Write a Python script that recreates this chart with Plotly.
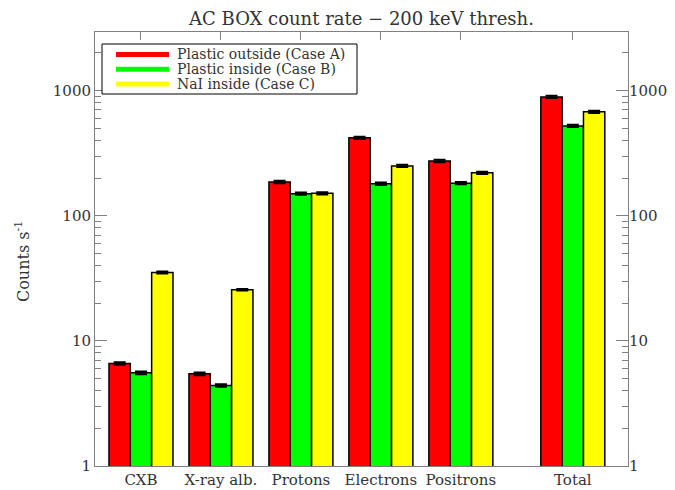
import plotly.graph_objects as go

categories = ["CXB", "X-ray alb.", "Protons", "Electrons", "Positrons", "Total"]
cat_pos = [1, 2, 3, 4, 5, 6.4]
series_names = ["Plastic outside (Case A)", "Plastic inside (Case B)", "NaI inside (Case C)"]
case_a = [6.6, 5.45, 186, 419, 274, 890]
case_b = [5.55, 4.4, 150, 180, 182, 522]
case_c = [35.2, 25.6, 151, 250, 220, 676]
err_a = [0.15, 0.13, 4, 9, 6, 18]
err_b = [0.13, 0.11, 3, 4, 4, 10]
err_c = [0.6, 0.4, 3, 5, 5, 13]
colors = ["#ff0000", "#00ff00", "#ffff00"]

y_tickvals = [1, 10, 100, 1000]
y_ticktext = ["1", "10", "100", "1000"]
y_minor = [m * 10 ** d for d in range(0, 4) for m in range(2, 10) if m * 10 ** d < 3000]

FONT = "DejaVu Serif"
TXT = "#333333"
AX = "#808080"
yrange = [0, 3.468]
xrange_ = [0.425, 7.09]

# the page body adds an 8px offset; size the figure so the plot lands where the reference has it
OFF = 8
W, H = 675 - OFF, 490 - OFF
PL, PR, PT, PB = 95, 628, 32, 466          # plot box in window pixels
ML, MT = PL - OFF, PT - OFF
MR, MB = W - (PR - OFF), H - (PB - OFF)
PW, PH = PR - PL, PB - PT


def px(xp):
    return (xp - PL) / PW


def py(yp):
    return (PB - yp) / PH


fig = go.Figure()
for name, vals, errs, col in zip(series_names, [case_a, case_b, case_c], [err_a, err_b, err_c], colors):
    fig.add_trace(go.Bar(
        x=cat_pos, y=vals, name=name, showlegend=False,
        marker=dict(color=col, line=dict(color="black", width=1.5)),
        error_y=dict(type="data", array=errs, color="black", thickness=2, width=6),
    ))
# invisible trace to activate the mirrored axes
fig.add_trace(go.Scatter(x=[None], y=[None], mode="lines", showlegend=False,
                         xaxis="x2", yaxis="y2", hoverinfo="skip"))

# legend drawn as a framed box with line samples
shapes = [dict(type="rect", xref="paper", yref="paper", x0=px(102), x1=px(357),
               y0=py(94), y1=py(44), line=dict(color="black", width=1),
               fillcolor="white", layer="above")]
annotations = []
row_y = [54.5, 69.3, 84]
for name, col, ry in zip(series_names, colors, row_y):
    shapes.append(dict(type="line", xref="paper", yref="paper", x0=px(116), x1=px(169),
                       y0=py(ry), y1=py(ry), line=dict(color=col, width=5), layer="above"))
    annotations.append(dict(text=name, xref="paper", yref="paper", x=px(175), y=py(ry),
                            xanchor="left", yanchor="middle", showarrow=False,
                            font=dict(family=FONT, size=14, color=TXT)))
annotations.append(dict(text="Counts s<sup>-1</sup>", xref="paper", yref="paper",
                        x=px(22), y=py(262), textangle=-90, xanchor="center", yanchor="middle",
                        showarrow=False, font=dict(family=FONT, size=16, color=TXT)))

fig.update_layout(
    width=W, height=H,
    margin=dict(l=ML, r=MR, t=MT, b=MB, autoexpand=False),
    paper_bgcolor="white", plot_bgcolor="white",
    barmode="group", bargap=0.2, bargroupgap=0,
    font=dict(family=FONT, size=16, color=TXT),
    title=dict(text="AC BOX count rate \u2212 200 keV thresh.", x=0.5, xref="paper",
               y=1 - (18.5 - OFF) / H, yref="container", yanchor="middle", automargin=False,
               font=dict(family=FONT, size=18, color=TXT)),
    xaxis=dict(range=xrange_, tickvals=cat_pos, ticktext=categories, ticks="",
               showline=True, linecolor=AX, linewidth=1, mirror=True, automargin=False,
               showgrid=False, zeroline=False, tickfont=dict(size=15, color=TXT)),
    xaxis2=dict(range=xrange_, overlaying="x", side="top", tickvals=cat_pos, automargin=False,
                ticks="inside", ticklen=8, tickcolor=AX, showticklabels=False,
                showline=False, showgrid=False, zeroline=False),
    yaxis=dict(type="log", range=yrange, tickvals=y_tickvals, ticktext=y_ticktext,
               ticks="inside", ticklen=12, tickcolor=AX, showline=True, linecolor=AX,
               linewidth=1, mirror=True, showgrid=False, zeroline=False, automargin=False,
               minor=dict(tickvals=y_minor, ticks="inside", ticklen=6, tickcolor=AX, showgrid=False),
               tickfont=dict(size=15, color=TXT)),
    yaxis2=dict(type="log", range=yrange, overlaying="y", side="right", anchor="x",
                tickvals=y_tickvals, ticktext=y_ticktext, ticks="inside", ticklen=12,
                tickcolor=AX, showline=False, showgrid=False, zeroline=False, automargin=False,
                minor=dict(tickvals=y_minor, ticks="inside", ticklen=6, tickcolor=AX, showgrid=False),
                tickfont=dict(size=15, color=TXT)),
    shapes=shapes,
    annotations=annotations,
    showlegend=False,
)

fig.write_html("out.html")
